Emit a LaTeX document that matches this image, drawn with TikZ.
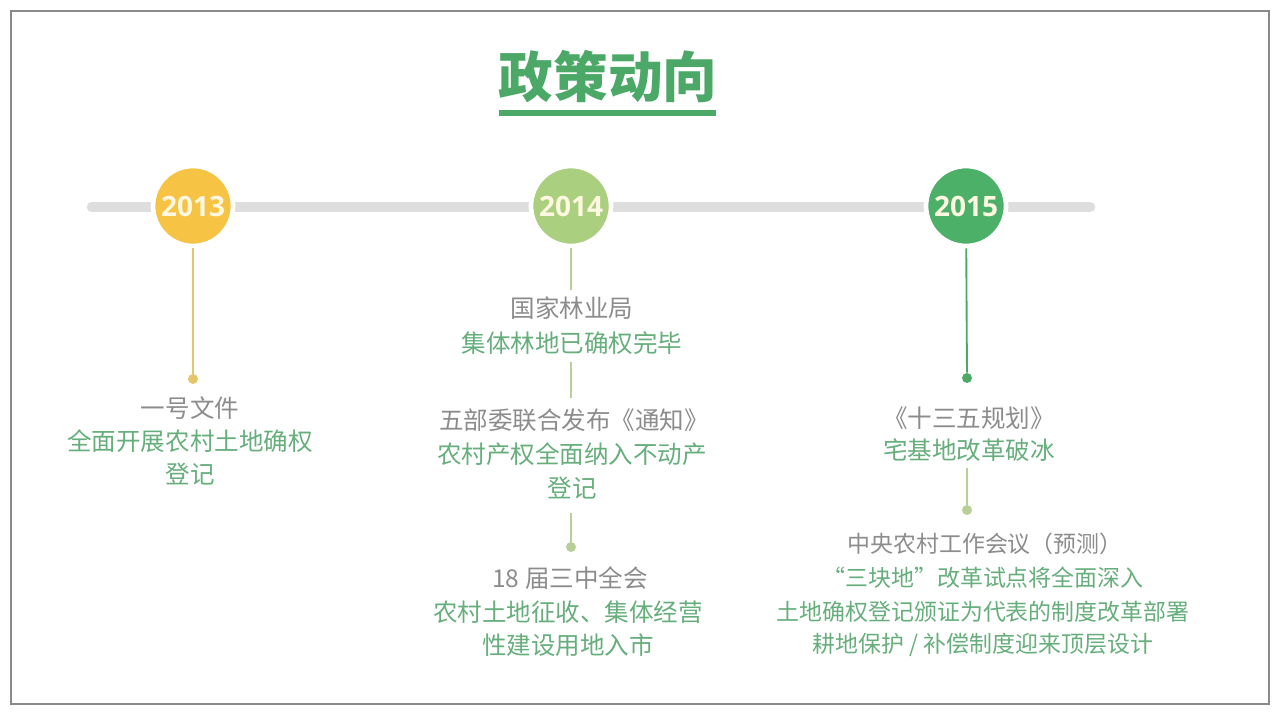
\documentclass[tikz,border=0pt]{standalone}
\usepackage{fontspec}
\setmainfont{Noto Sans CJK SC}
\newfontfamily\yearfont{Open Sans}
\usetikzlibrary{shadows}
\definecolor{tgray}{HTML}{8C8C8C}
\definecolor{tgreen}{HTML}{66AE7C}
\definecolor{titlegreen}{HTML}{4BA866}
\definecolor{barg}{HTML}{DEDEDE}
\definecolor{c13}{HTML}{F6C344}
\definecolor{c14}{HTML}{AACF7E}
\definecolor{c15}{HTML}{4DB068}
\definecolor{l13}{HTML}{E6C56C}
\definecolor{l14}{HTML}{B8CF9A}
\definecolor{l15}{HTML}{4DAA66}
\definecolor{frame}{HTML}{8A8A8A}
\definecolor{yeartxt}{HTML}{FFF8E1}
\begin{document}
\begin{tikzpicture}[x=0.75pt,y=-0.75pt,
  yearc/.style={circle, minimum size=80*0.75pt, inner sep=0pt, draw=white, line width=3.5pt,
    drop shadow={shadow xshift=0.9pt, shadow yshift=-1.2pt, fill=black!20},
    text=yeartxt, font=\yearfont\bfseries\fontsize{21}{24}\selectfont},
  head/.style={inner sep=0pt, text=tgray, font=\fontsize{18.4}{22}\selectfont},
  body/.style={inner sep=0pt, text=tgreen, font=\fontsize{18.4}{22}\selectfont},
  heads/.style={inner sep=0pt, text=tgray, font=\fontsize{17.2}{21}\selectfont},
  bodys/.style={inner sep=0pt, text=tgreen, font=\fontsize{17.2}{21}\selectfont},
  dotn/.style={circle, inner sep=0pt, minimum size=7.5pt},
  vline/.style={line width=1.4pt}
]
\useasboundingbox (0,0) rectangle (1280,715);
\fill[white] (0,0) rectangle (1280,715);
\draw[frame, line width=1.5pt] (11,11) rectangle (1269,704);

% title
\node[inner sep=0pt, text=titlegreen, font=\bfseries\fontsize{41}{46}\selectfont] (title) at (608,77) {政策动向};
\coordinate (ulL) at (499,113);
\coordinate (ulR) at (716,113);
\draw[titlegreen, line width=4.5pt] (ulL) -- (ulR);

% timeline bar
\coordinate (barL) at (92,207);
\coordinate (barR) at (1090,207);
\draw[barg, line width=8pt, line cap=round] (barL) -- (barR);

% year circles
\node[yearc, fill=c13] (y13) at (193,206) {2013};
\node[yearc, fill=c14] (y14) at (571,206) {2014};
\node[yearc, fill=c15] (y15) at (966,206) {2015};

% 2013
\node[dotn, fill=l13] (d13) at (193,379) {};
\draw[l13, vline] (y13) -- (d13);
\node[head] (t13a) at (190,408) {一号文件};
\node[body] (t13b) at (190,441) {全面开展农村土地确权};
\node[body] (t13c) at (190,474) {登记};

% 2014
\coordinate (a14) at (571,290);
\draw[l14, vline] (y14) -- (a14);
\node[head] (t14a) at (572,308) {国家林业局};
\node[body] (t14b) at (572,343) {集体林地已确权完毕};
\coordinate (b14) at (571,362);
\coordinate (c14) at (571,398);
\draw[l14, vline] (b14) -- (c14);
\node[head] (t14c) at (574,420) {五部委联合发布《通知》};
\node[body] (t14d) at (572,454) {农村产权全面纳入不动产};
\node[body] (t14e) at (572,488) {登记};
\coordinate (e14) at (571,513);
\node[dotn, fill=l14] (d14) at (571,547) {};
\draw[l14, vline] (e14) -- (d14);
\node[head] (t14f) at (570,578) {18 届三中全会};
\node[body] (t14g) at (568,612) {农村土地征收、集体经营};
\node[body] (t14h) at (568,645) {性建设用地入市};

% 2015
\node[dotn, fill=l15] (d15) at (967,378) {};
\draw[l15, vline] (y15) -- (d15);
\node[head] (t15a) at (969,418) {《十三五规划》};
\node[body] (t15b) at (969,450) {宅基地改革破冰};
\coordinate (a15) at (967,468);
\node[dotn, fill=l14] (d15b) at (967,510) {};
\draw[l14, vline] (a15) -- (d15b);
\node[heads] (t15c) at (985,544) {中央农村工作会议（预测）};
\node[bodys] (t15d) at (983,578) {“三块地”改革试点将全面深入};
\node[bodys] (t15e) at (983,612) {土地确权登记颁证为代表的制度改革部署};
\node[bodys] (t15f) at (983,645) {耕地保护 / 补偿制度迎来顶层设计};
\end{tikzpicture}
\end{document}
